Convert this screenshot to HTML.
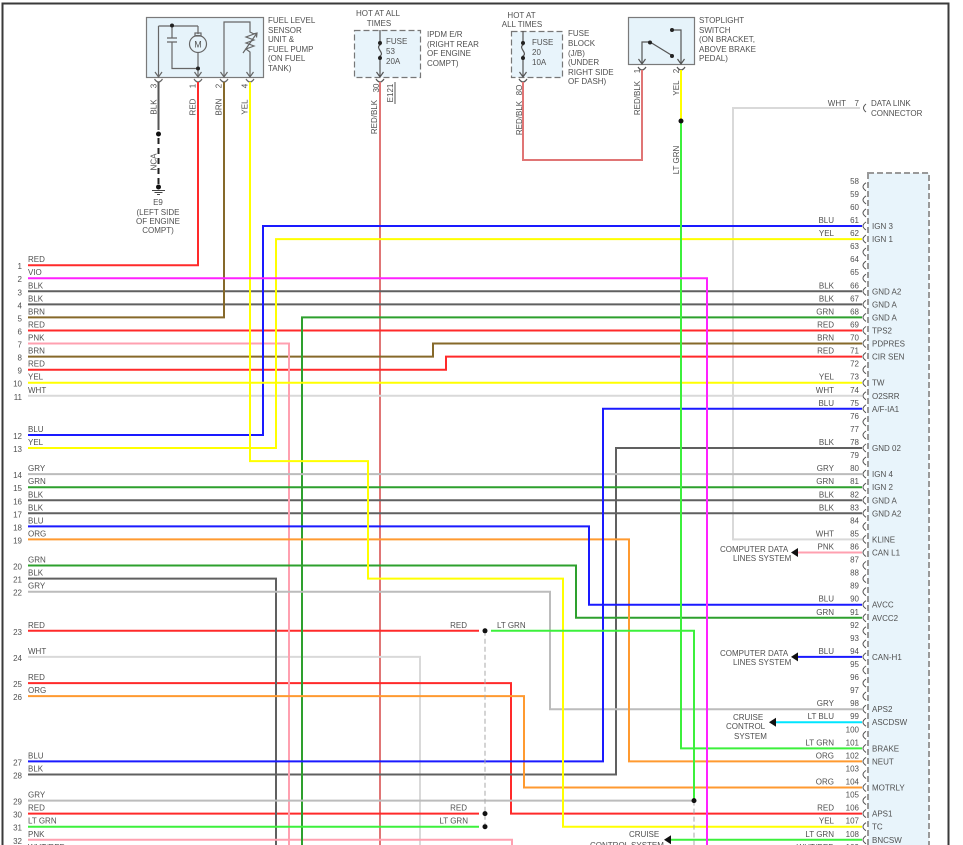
<!DOCTYPE html>
<html><head><meta charset="utf-8"><style>
html,body{margin:0;padding:0;background:#fff;}
svg{display:block;}
text{font-family:"Liberation Sans",sans-serif;font-size:8px;fill:#505050;}
.w{fill:none;stroke-width:2;stroke-linejoin:miter;}
.r{text-anchor:end;}
.m{text-anchor:middle;}
</style></head><body>
<svg width="963" height="845" viewBox="0 0 963 845" xmlns="http://www.w3.org/2000/svg">
<rect x="0" y="0" width="963" height="845" fill="#fff"/>
<!-- frame -->
<path d="M2.5,846 V3.5 H948.5 V846" fill="none" stroke="#3a3a3a" stroke-width="2"/>

<!-- big connector box -->
<rect x="868" y="173" width="61" height="680" fill="#e8f4fb" stroke="#999" stroke-width="2" stroke-dasharray="6,3"/>

<!-- ===== top components ===== -->
<!-- fuel level sensor box -->
<rect x="146.5" y="17.5" width="117" height="60" fill="#e6f3fa" stroke="#7a7a7a" stroke-width="1.2"/>
<g fill="none" stroke="#666" stroke-width="1.2">
<path d="M158.5,26 V77 M158.5,26 H198 M172,26 V38 M167,38 H177 M167,42 H177 M172,42 V68.5 H198 M198,26 V34 M198,53 V77"/>
<rect x="195" y="33" width="6" height="3"/>
<circle cx="198" cy="44" r="8.5"/>
<path d="M224,77 V22 H250 V32 L254,34 L246,37 L254,40 L246,43 L254,46 L246,49 L250,52 V77"/>
<path d="M243,53 L257,33 M253,34 L257,33 L256.5,37.5"/>
<path d="M155,72 L158.5,77 L162,72 M194.5,72 L198,77 L201.5,72 M220.5,72 L224,77 L227.5,72 M246.5,72 L250,77 L253.5,72"/>
<path d="M154.5,79 Q158.5,85 162.5,79 M194,79 Q198,85 202,79 M220,79 Q224,85 228,79 M246,79 Q250,85 254,79"/>
</g>
<circle cx="172" cy="25.5" r="2" fill="#222"/>
<circle cx="198" cy="68.5" r="2" fill="#222"/>
<text x="198" y="47.5" class="m" style="font-size:9px;fill:#555">M</text>
<text x="268" y="23">FUEL LEVEL</text>
<text x="268" y="33">SENSOR</text>
<text x="268" y="42">UNIT &amp;</text>
<text x="268" y="52">FUEL PUMP</text>
<text x="268" y="61">(ON FUEL</text>
<text x="268" y="71">TANK)</text>
<text transform="translate(156.5,86) rotate(-90)" class="m">3</text>
<text transform="translate(195.5,86) rotate(-90)" class="m">1</text>
<text transform="translate(221.5,86) rotate(-90)" class="m">2</text>
<text transform="translate(247.5,86) rotate(-90)" class="m">4</text>
<text transform="translate(156.5,107) rotate(-90)" class="m">BLK</text>
<text transform="translate(195.5,107) rotate(-90)" class="m">RED</text>
<text transform="translate(221.5,107) rotate(-90)" class="m">BRN</text>
<text transform="translate(247.5,107) rotate(-90)" class="m">YEL</text>
<!-- ground -->
<path d="M158.5,82 V130" stroke="#555" stroke-width="2" fill="none"/>
<path d="M158.5,138 V184" stroke="#222" stroke-width="2" stroke-dasharray="6,4" fill="none"/>
<circle cx="158.5" cy="134" r="2.5" fill="#111"/>
<circle cx="158.5" cy="187" r="2.5" fill="#111"/>
<path d="M152,190.5 H165 M154.5,192.5 H162.5 M157,194.5 H160" stroke="#444" stroke-width="1" fill="none"/>
<text transform="translate(156.5,162) rotate(-90)" class="m">NCA</text>
<text x="158" y="205" class="m">E9</text>
<text x="158" y="215" class="m">(LEFT SIDE</text>
<text x="158" y="224" class="m">OF ENGINE</text>
<text x="158" y="233" class="m">COMPT)</text>

<!-- IPDM fuse -->
<text x="378" y="16" class="m">HOT AT ALL</text>
<text x="379" y="26" class="m">TIMES</text>
<rect x="354.5" y="30.5" width="66" height="47" fill="#e8f4fb" stroke="#777" stroke-width="1.2" stroke-dasharray="6,3"/>
<g fill="none" stroke="#555" stroke-width="1.2">
<path d="M380,30 V45 C375,48 385,53 380,56 V77 M376.5,72 L380,77 L383.5,72 M376,79 Q380,85 384,79"/>
</g>
<circle cx="380" cy="43" r="2" fill="#222"/><circle cx="380" cy="58" r="2" fill="#222"/>
<text x="386" y="44">FUSE</text><text x="386" y="54">53</text><text x="386" y="64">20A</text>
<text x="427" y="37">IPDM E/R</text><text x="427" y="47">(RIGHT REAR</text><text x="427" y="56">OF ENGINE</text><text x="427" y="66">COMPT)</text>
<text transform="translate(379,88) rotate(-90)" class="m">30</text>
<text transform="translate(393,93) rotate(-90)" class="m">E121</text>
<path d="M395,82 V104" stroke="#555" stroke-width="1"/>
<text transform="translate(377,117) rotate(-90)" class="m">RED/BLK</text>

<!-- fuse block -->
<text x="521.5" y="18" class="m">HOT AT</text>
<text x="522" y="27" class="m">ALL TIMES</text>
<rect x="511.5" y="31.5" width="51" height="46" fill="#e8f4fb" stroke="#777" stroke-width="1.2" stroke-dasharray="6,3"/>
<g fill="none" stroke="#555" stroke-width="1.2">
<path d="M523,31 V45 C518,48 528,53 523,56 V77 M519.5,72 L523,77 L526.5,72 M519,79 Q523,85 527,79"/>
</g>
<circle cx="523" cy="43" r="2" fill="#222"/><circle cx="523" cy="58" r="2" fill="#222"/>
<text x="532" y="45">FUSE</text><text x="532" y="55">20</text><text x="532" y="65">10A</text>
<text x="568" y="36">FUSE</text><text x="568" y="46">BLOCK</text><text x="568" y="56">(J/B)</text><text x="568" y="65">(UNDER</text><text x="568" y="75">RIGHT SIDE</text><text x="568" y="84">OF DASH)</text>
<text transform="translate(522,90) rotate(-90)" class="m">8Q</text>
<text transform="translate(522,118) rotate(-90)" class="m">RED/BLK</text>

<!-- stoplight switch -->
<rect x="628.5" y="17.5" width="66" height="47" fill="#e6f3fa" stroke="#7a7a7a" stroke-width="1.2"/>
<g fill="none" stroke="#555" stroke-width="1.2">
<path d="M642,64 V42 H650 L672,55.5 M672,30 H681 V64 M638.5,59 L642,64 L645.5,59 M677.5,59 L681,64 L684.5,59 M638,67 Q642,73 646,67 M677,67 Q681,73 685,67"/>
</g>
<circle cx="650" cy="42.5" r="2" fill="#222"/><circle cx="672" cy="30" r="2" fill="#222"/><circle cx="672" cy="56" r="2" fill="#222"/>
<text x="699" y="23">STOPLIGHT</text><text x="699" y="33">SWITCH</text><text x="699" y="42">(ON BRACKET,</text><text x="699" y="52">ABOVE BRAKE</text><text x="699" y="61">PEDAL)</text>
<text transform="translate(640,71) rotate(-90)" class="m">1</text>
<text transform="translate(679,71) rotate(-90)" class="m">2</text>
<text transform="translate(640,98) rotate(-90)" class="m">RED/BLK</text>
<text transform="translate(679,88) rotate(-90)" class="m">YEL</text>
<text transform="translate(679,160) rotate(-90)" class="m">LT GRN</text>

<!-- data link -->
<text x="846" y="106" class="r">WHT</text>
<text x="859" y="106" class="r">7</text>
<path d="M866,104 Q861,108 866,112" fill="none" stroke="#555" stroke-width="1"/>
<text x="871" y="106">DATA LINK</text>
<text x="871" y="116">CONNECTOR</text>

<!-- ===== wires ===== -->
<g class="w">
<path stroke="#e07575" d="M380,82 V845 M523,82 V160 H642 V70"/>
<path stroke="#d9d9d9" d="M860,108 H733 V539.4 H862 M28,395.8 H862 M28,656.9 H420 V845"/>
<path stroke="#ff2a2a" d="M198,82 V265.2 H28 M28,330.5 H862 M28,369.7 H446 V356.6 H862 M28,630.8 H479 M28,683.1 H511 V813.6 H862 M28,813.6 H479"/>
<path stroke="#606060" d="M28,291.3 H862 M28,304.4 H862 M862,448 H616 V774.5 H28 M28,500.3 H862 M28,513.3 H862 M28,578.6 H276 V845"/>
<path stroke="#86692a" d="M224,82 V317.4 H28 M28,356.6 H433 V343.5 H862"/>
<path stroke="#ffa0b0" d="M28,343.5 H289 V845 M28,839.8 H512 V845 M798,552.5 H862"/>
<path stroke="#2ea02e" d="M302,845 V317.4 H862 M28,487.2 H862 M28,565.5 H576 V617.8 H862"/>
<path stroke="#bcbcbc" d="M28,474.1 H862 M28,591.7 H550 V709.2 H862 M28,800.6 H694"/>
<path stroke="#ff9a30" d="M28,539.4 H629 V761.4 H862 M28,696.1 H524 V787.5 H862"/>
<path stroke="#1a1aff" d="M28,435 H263 V226 H862 M862,408.8 H603 V761.4 H28 M28,526.4 H589 V604.7 H862 M798,656.9 H862"/>
<path stroke="#ffff00" d="M28,382.7 H862 M28,448 H276 V239.1 H862 M250,82 V461.1 H368 V578.6 H563 V826.7 H862 M681,70 V121"/>
<path stroke="#3cf03c" d="M491,630.8 H694 V800.6 M28,826.7 H479 M681,121 V748.4 H862 M671,839.8 H862"/>
<path stroke="#00e5ff" d="M776,722.2 H862"/>
<path stroke="#ff22ff" d="M28,278.2 H707 V845"/>
</g>
<path d="M485,630.8 V826.7 M694,800.6 V845" stroke="#aaa" stroke-width="1" stroke-dasharray="5,3" fill="none"/>
<g fill="#111">
<circle cx="485" cy="630.8" r="2.5"/><circle cx="485" cy="813.6" r="2.5"/><circle cx="485" cy="826.7" r="2.5"/>
<circle cx="694" cy="800.6" r="2.5"/><circle cx="681" cy="121" r="2.5"/>
<path d="M791,552.5 L798,548 L798,557 Z"/>
<path d="M791,656.9 L798,652.4 L798,661.4 Z"/>
<path d="M769,722.2 L776,717.7 L776,726.7 Z"/>
<path d="M664,839.8 L671,835.3 L671,844.3 Z"/>
</g>
<text x="467" y="628" class="r">RED</text>
<text x="497" y="628">LT GRN</text>
<text x="467" y="810.6" class="r">RED</text>
<text x="468" y="823.7" class="r">LT GRN</text>
<text x="720" y="552">COMPUTER DATA</text><text x="733" y="561">LINES SYSTEM</text>
<text x="720" y="656">COMPUTER DATA</text><text x="733" y="665">LINES SYSTEM</text>
<text x="733" y="720">CRUISE</text><text x="726" y="729">CONTROL</text><text x="734" y="739">SYSTEM</text>
<text x="629" y="837">CRUISE</text><text x="590" y="848">CONTROL SYSTEM</text>

<!-- ===== left labels ===== -->
<g>
<text x="22" y="269.2" class="r">1</text><text x="28" y="262.2">RED</text>
<text x="22" y="282.2" class="r">2</text><text x="28" y="275.2">VIO</text>
<text x="22" y="295.3" class="r">3</text><text x="28" y="288.3">BLK</text>
<text x="22" y="308.4" class="r">4</text><text x="28" y="301.4">BLK</text>
<text x="22" y="321.4" class="r">5</text><text x="28" y="314.4">BRN</text>
<text x="22" y="334.5" class="r">6</text><text x="28" y="327.5">RED</text>
<text x="22" y="347.5" class="r">7</text><text x="28" y="340.5">PNK</text>
<text x="22" y="360.6" class="r">8</text><text x="28" y="353.6">BRN</text>
<text x="22" y="373.7" class="r">9</text><text x="28" y="366.7">RED</text>
<text x="22" y="386.7" class="r">10</text><text x="28" y="379.7">YEL</text>
<text x="22" y="399.8" class="r">11</text><text x="28" y="392.8">WHT</text>
<text x="22" y="439" class="r">12</text><text x="28" y="432">BLU</text>
<text x="22" y="452" class="r">13</text><text x="28" y="445">YEL</text>
<text x="22" y="478.1" class="r">14</text><text x="28" y="471.1">GRY</text>
<text x="22" y="491.2" class="r">15</text><text x="28" y="484.2">GRN</text>
<text x="22" y="504.3" class="r">16</text><text x="28" y="497.3">BLK</text>
<text x="22" y="517.3" class="r">17</text><text x="28" y="510.3">BLK</text>
<text x="22" y="530.4" class="r">18</text><text x="28" y="523.4">BLU</text>
<text x="22" y="543.4" class="r">19</text><text x="28" y="536.4">ORG</text>
<text x="22" y="569.5" class="r">20</text><text x="28" y="562.5">GRN</text>
<text x="22" y="582.6" class="r">21</text><text x="28" y="575.6">BLK</text>
<text x="22" y="595.7" class="r">22</text><text x="28" y="588.7">GRY</text>
<text x="22" y="634.8" class="r">23</text><text x="28" y="627.8">RED</text>
<text x="22" y="660.9" class="r">24</text><text x="28" y="653.9">WHT</text>
<text x="22" y="687.1" class="r">25</text><text x="28" y="680.1">RED</text>
<text x="22" y="700.1" class="r">26</text><text x="28" y="693.1">ORG</text>
<text x="22" y="765.4" class="r">27</text><text x="28" y="758.4">BLU</text>
<text x="22" y="778.5" class="r">28</text><text x="28" y="771.5">BLK</text>
<text x="22" y="804.6" class="r">29</text><text x="28" y="797.6">GRY</text>
<text x="22" y="817.6" class="r">30</text><text x="28" y="810.6">RED</text>
<text x="22" y="830.7" class="r">31</text><text x="28" y="823.7">LT GRN</text>
<text x="22" y="843.8" class="r">32</text><text x="28" y="836.8">PNK</text>
<text x="28" y="849.8">WHT/RED</text>
</g>

<!-- ===== right pins ===== -->
<path fill="none" stroke="#555" stroke-width="1" d="M866,182.8 Q860,186.8 866,190.8 M866,195.9 Q860,199.9 866,203.9 M866,208.9 Q860,212.9 866,216.9 M866,222 Q860,226 866,230 M866,235.1 Q860,239.1 866,243.1 M866,248.1 Q860,252.1 866,256.1 M866,261.2 Q860,265.2 866,269.2 M866,274.2 Q860,278.2 866,282.2 M866,287.3 Q860,291.3 866,295.3 M866,300.4 Q860,304.4 866,308.4 M866,313.4 Q860,317.4 866,321.4 M866,326.5 Q860,330.5 866,334.5 M866,339.5 Q860,343.5 866,347.5 M866,352.6 Q860,356.6 866,360.6 M866,365.7 Q860,369.7 866,373.7 M866,378.7 Q860,382.7 866,386.7 M866,391.8 Q860,395.8 866,399.8 M866,404.8 Q860,408.8 866,412.8 M866,417.9 Q860,421.9 866,425.9 M866,431 Q860,435 866,439 M866,444 Q860,448 866,452 M866,457.1 Q860,461.1 866,465.1 M866,470.1 Q860,474.1 866,478.1 M866,483.2 Q860,487.2 866,491.2 M866,496.3 Q860,500.3 866,504.3 M866,509.3 Q860,513.3 866,517.3 M866,522.4 Q860,526.4 866,530.4 M866,535.4 Q860,539.4 866,543.4 M866,548.5 Q860,552.5 866,556.5 M866,561.5 Q860,565.5 866,569.5 M866,574.6 Q860,578.6 866,582.6 M866,587.7 Q860,591.7 866,595.7 M866,600.7 Q860,604.7 866,608.7 M866,613.8 Q860,617.8 866,621.8 M866,626.8 Q860,630.8 866,634.8 M866,639.9 Q860,643.9 866,647.9 M866,652.9 Q860,656.9 866,660.9 M866,666 Q860,670 866,674 M866,679.1 Q860,683.1 866,687.1 M866,692.1 Q860,696.1 866,700.1 M866,705.2 Q860,709.2 866,713.2 M866,718.2 Q860,722.2 866,726.2 M866,731.3 Q860,735.3 866,739.3 M866,744.4 Q860,748.4 866,752.4 M866,757.4 Q860,761.4 866,765.4 M866,770.5 Q860,774.5 866,778.5 M866,783.5 Q860,787.5 866,791.5 M866,796.6 Q860,800.6 866,804.6 M866,809.6 Q860,813.6 866,817.6 M866,822.7 Q860,826.7 866,830.7 M866,835.8 Q860,839.8 866,843.8"/>
<g class="r">
<text x="859" y="183.8">58</text><text x="859" y="196.9">59</text><text x="859" y="209.9">60</text>
<text x="859" y="223">61</text><text x="859" y="236.1">62</text><text x="859" y="249.1">63</text>
<text x="859" y="262.2">64</text><text x="859" y="275.2">65</text><text x="859" y="288.3">66</text>
<text x="859" y="301.4">67</text><text x="859" y="314.4">68</text><text x="859" y="327.5">69</text>
<text x="859" y="340.5">70</text><text x="859" y="353.6">71</text><text x="859" y="366.7">72</text>
<text x="859" y="379.7">73</text><text x="859" y="392.8">74</text><text x="859" y="405.8">75</text>
<text x="859" y="418.9">76</text><text x="859" y="432">77</text><text x="859" y="445">78</text>
<text x="859" y="458.1">79</text><text x="859" y="471.1">80</text><text x="859" y="484.2">81</text>
<text x="859" y="497.3">82</text><text x="859" y="510.3">83</text><text x="859" y="523.4">84</text>
<text x="859" y="536.4">85</text><text x="859" y="549.5">86</text><text x="859" y="562.5">87</text>
<text x="859" y="575.6">88</text><text x="859" y="588.7">89</text><text x="859" y="601.7">90</text>
<text x="859" y="614.8">91</text><text x="859" y="627.8">92</text><text x="859" y="640.9">93</text>
<text x="859" y="653.9">94</text><text x="859" y="667">95</text><text x="859" y="680.1">96</text>
<text x="859" y="693.1">97</text><text x="859" y="706.2">98</text><text x="859" y="719.2">99</text>
<text x="859" y="732.3">100</text><text x="859" y="745.4">101</text><text x="859" y="758.4">102</text>
<text x="859" y="771.5">103</text><text x="859" y="784.5">104</text><text x="859" y="797.6">105</text>
<text x="859" y="810.6">106</text><text x="859" y="823.7">107</text><text x="859" y="836.8">108</text>
<text x="859" y="849.8">109</text>
<!-- wire colors -->
<text x="834" y="223">BLU</text><text x="834" y="236.1">YEL</text>
<text x="834" y="288.3">BLK</text><text x="834" y="301.4">BLK</text><text x="834" y="314.4">GRN</text>
<text x="834" y="327.5">RED</text><text x="834" y="340.5">BRN</text><text x="834" y="353.6">RED</text>
<text x="834" y="379.7">YEL</text><text x="834" y="392.8">WHT</text><text x="834" y="405.8">BLU</text>
<text x="834" y="445">BLK</text><text x="834" y="471.1">GRY</text><text x="834" y="484.2">GRN</text>
<text x="834" y="497.3">BLK</text><text x="834" y="510.3">BLK</text><text x="834" y="536.4">WHT</text>
<text x="834" y="549.5">PNK</text><text x="834" y="601.7">BLU</text><text x="834" y="614.8">GRN</text>
<text x="834" y="653.9">BLU</text><text x="834" y="706.2">GRY</text><text x="834" y="719.2">LT BLU</text>
<text x="834" y="745.4">LT GRN</text><text x="834" y="758.4">ORG</text><text x="834" y="784.5">ORG</text>
<text x="834" y="810.6">RED</text><text x="834" y="823.7">YEL</text><text x="834" y="836.8">LT GRN</text>
<text x="834" y="849.8">WHT/RED</text>
</g>
<g>
<text x="872" y="229">IGN 3</text><text x="872" y="242.1">IGN 1</text>
<text x="872" y="294.3">GND A2</text><text x="872" y="307.4">GND A</text><text x="872" y="320.4">GND A</text>
<text x="872" y="333.5">TPS2</text><text x="872" y="346.5">PDPRES</text><text x="872" y="359.6">CIR SEN</text>
<text x="872" y="385.7">TW</text><text x="872" y="398.8">O2SRR</text><text x="872" y="411.8">A/F-IA1</text>
<text x="872" y="451">GND 02</text><text x="872" y="477.1">IGN 4</text><text x="872" y="490.2">IGN 2</text>
<text x="872" y="503.3">GND A</text><text x="872" y="516.3">GND A2</text><text x="872" y="542.4">KLINE</text>
<text x="872" y="555.5">CAN L1</text><text x="872" y="607.7">AVCC</text><text x="872" y="620.8">AVCC2</text>
<text x="872" y="659.9">CAN-H1</text><text x="872" y="712.2">APS2</text><text x="872" y="725.2">ASCDSW</text>
<text x="872" y="751.4">BRAKE</text><text x="872" y="764.4">NEUT</text><text x="872" y="790.5">MOTRLY</text>
<text x="872" y="816.6">APS1</text><text x="872" y="829.7">TC</text><text x="872" y="842.8">BNCSW</text>
</g>
</svg>
</body></html>
